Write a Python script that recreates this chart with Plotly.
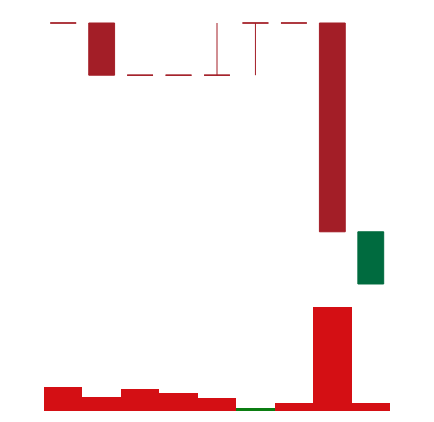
import plotly.graph_objects as go

x = list(range(9))
opens = [100, 100, 99, 99, 99, 100, 100, 100, 95]
highs = [100, 100, 99, 99, 100, 100, 100, 100, 96]
lows = [100, 99, 99, 99, 99, 99, 100, 96, 95]
closes = [100, 99, 99, 99, 99, 100, 100, 96, 96]
volumes = [237, 143, 220, 177, 127, 30, 77, 1037, 77]
vol_colors = ["#d40f14", "#d40f14", "#d40f14", "#d40f14", "#d40f14",
              "#0b7d12", "#d40f14", "#d40f14", "#d40f14"]

RED = "#a31e27"
GREEN = "#006b3f"

up = [c > o for o, c in zip(opens, closes)]


def pick(vals, keep):
    return [v if k else None for v, k in zip(vals, keep)]


fig = go.Figure()
for keep, col in ((
        [not u for u in up], RED), (up, GREEN)):
    fig.add_trace(go.Candlestick(
        x=x, open=pick(opens, keep), high=pick(highs, keep),
        low=pick(lows, keep), close=pick(closes, keep),
        increasing=dict(line=dict(color=col, width=1), fillcolor=col),
        decreasing=dict(line=dict(color=col, width=1), fillcolor=col),
        whiskerwidth=0, showlegend=False, yaxis="y"))
fig.add_trace(go.Bar(
    x=x, y=volumes, marker=dict(color=vol_colors, line=dict(width=0)),
    width=1, showlegend=False, yaxis="y2"))

fig.update_layout(
    width=434, height=422,
    margin=dict(l=44, r=44, t=0, b=0),
    paper_bgcolor="white", plot_bgcolor="white",
    boxgap=0.04, bargap=0, boxmode="overlay",
    xaxis=dict(range=[-0.5, 8.5], visible=False, rangeslider=dict(visible=False)),
    yaxis=dict(range=[92.356, 100.4406], visible=False),
    yaxis2=dict(range=[-110, 4110], visible=False, overlaying="y"),
)
fig.write_html("out.html")
